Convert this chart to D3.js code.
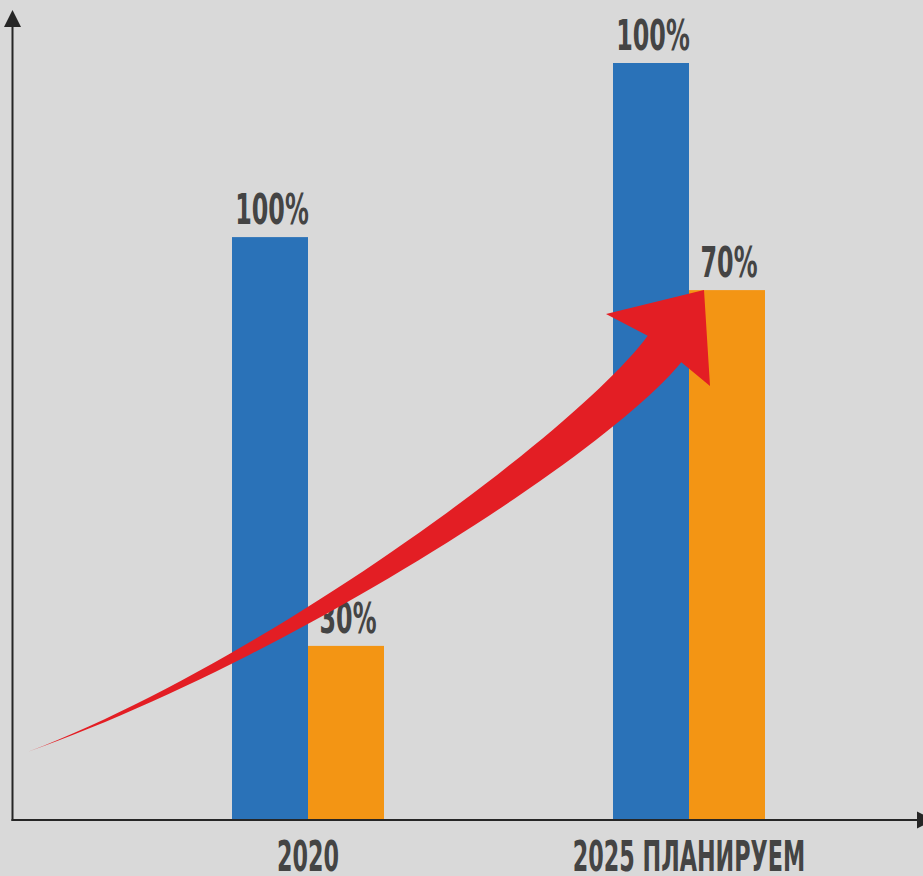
<!DOCTYPE html>
<html>
<head>
<meta charset="utf-8">
<script src="https://cdn.jsdelivr.net/npm/d3@7"></script>
<style>
	html, body { margin: 0; padding: 0; background: #d9d9d9; }
	svg { display: block; }
	.lbl { font-family: "Liberation Sans Narrow", "DejaVu Sans Condensed", sans-serif; font-weight: bold; fill: #444444; }
</style>
</head>
<body>
<div id="chart"></div>
<script>

//data
const categories = ['2020', '2025 ПЛАНИРУЕМ'];
const seriesNames = ['base', 'target'];
const baseValues = [77, 100];
const targetValues = [23, 70];
const baseLabels = ['100%', '100%'];
const targetLabels = ['30%', '70%'];

const colors = {base: '#2a72b8', target: '#f39514'};

const width = 923, height = 876;
const axisColor = '#262626';
const valSqueeze = 0.63; // narrow the font horizontally
const catSqueeze = 0.59;

const svg = d3.select('#chart').append('svg')
	.attr('width', width)
	.attr('height', height);

svg.append('rect')
	.attr('width', width)
	.attr('height', height)
	.attr('fill', '#d9d9d9');

//scales
const xScale = d3.scaleBand()
	.domain(categories)
	.range([117.5, 879.5])
	.padding(0);

const xSub = d3.scaleBand()
	.domain(seriesNames)
	.range([-76, 76])
	.padding(0);

const yScale = d3.scaleLinear()
	.domain([0, 100])
	.range([820, 63]);

const rows = categories.map((c, i) => ({
	cat: c,
	bars: [
		{key: 'base', value: baseValues[i], label: baseLabels[i]},
		{key: 'target', value: targetValues[i], label: targetLabels[i]}
	]
}));

const groups = svg.selectAll('.grp')
	.data(rows)
	.enter().append('g')
	.attr('class', 'grp')
	.attr('transform', d => `translate(${xScale(d.cat) + xScale.bandwidth() / 2},0)`);

groups.selectAll('rect')
	.data(d => d.bars)
	.enter().append('rect')
	.attr('x', d => xSub(d.key))
	.attr('y', d => yScale(d.value))
	.attr('width', xSub.bandwidth())
	.attr('height', d => yScale(0) - yScale(d.value))
	.attr('fill', d => colors[d.key]);

//axes
const x0 = 12.5, yBase = 820;
svg.append('line')
	.attr('x1', x0).attr('y1', yBase + 1)
	.attr('x2', x0).attr('y2', 25)
	.attr('stroke', axisColor).attr('stroke-width', 2);
svg.append('path')
	.attr('d', `M${x0},10 L${x0 + 8.5},27 L${x0 - 8.5},27 Z`)
	.attr('fill', axisColor);

svg.append('line')
	.attr('x1', x0 - 1).attr('y1', yBase)
	.attr('x2', 918).attr('y2', yBase)
	.attr('stroke', axisColor).attr('stroke-width', 2);
svg.append('path')
	.attr('d', `M917,${yBase - 8.5} L934,${yBase} L917,${yBase + 8.5} Z`)
	.attr('fill', axisColor);

//category labels
const xAxis = svg.append('g')
	.attr('transform', `translate(0,${yBase})`)
	.call(d3.axisBottom(xScale).tickSize(0).tickPadding(0));
xAxis.select('.domain').remove();
xAxis.selectAll('text')
	.attr('class', 'lbl')
	.attr('font-size', 42)
	.attr('dy', null)
	.attr('y', 0)
	.attr('transform', `translate(0,51) scale(${catSqueeze},1)`)
	.attr('fill', '#444444')
	.style('font-family', '"Liberation Sans Narrow", "DejaVu Sans Condensed", sans-serif')
	.style('font-weight', 'bold');

//red growth arrow, anchored on the scales
const cx1 = xScale(categories[1]) + xScale.bandwidth() / 2;
const tip = [cx1 + 15, yScale(targetValues[1])];
const p0 = [28, yScale(9)];
const p3 = [tip[0] - 39.5, tip[1] + 59];
const c1 = [p0[0] + 250, p0[1] - 0.37 * 250];
const c2 = [p3[0] - 0.619 * 120, p3[1] + 0.786 * 120];

function bez(t) {
	const a = Math.pow(1 - t, 3), b = 3 * t * (1 - t) * (1 - t), c = 3 * t * t * (1 - t), e = t * t * t;
	return [a * p0[0] + b * c1[0] + c * c2[0] + e * p3[0],
		a * p0[1] + b * c1[1] + c * c2[1] + e * p3[1]];
}
function bezD(t) {
	const a = 3 * (1 - t) * (1 - t), b = 6 * t * (1 - t), c = 3 * t * t;
	return [a * (c1[0] - p0[0]) + b * (c2[0] - c1[0]) + c * (p3[0] - c2[0]),
		a * (c1[1] - p0[1]) + b * (c2[1] - c1[1]) + c * (p3[1] - c2[1])];
}

const upper = [], lower = [];
d3.range(0, 1.0001, 0.02).forEach(t => {
	const p = bez(t), d = bezD(t);
	const len = Math.hypot(d[0], d[1]);
	const nx = -d[1] / len, ny = d[0] / len;
	const frac = (p[0] - p0[0]) / (p3[0] - p0[0]);
	const w = 21.4 * Math.pow(Math.max(frac, 0), 1.3);
	upper.push([p[0] - nx * w, p[1] - ny * w]);
	lower.push([p[0] + nx * w, p[1] + ny * w]);
});

const head = [
	[tip[0] - 98, tip[1] + 24],
	tip,
	[tip[0] + 6, tip[1] + 96]
];

const outline = upper.concat(head).concat(lower.reverse());

svg.append('path')
	.attr('d', d3.line()(outline) + 'Z')
	.attr('fill', '#e31e24');

//value labels on top
groups.selectAll('.val')
	.data(d => d.bars)
	.enter().append('text')
	.attr('class', 'lbl val')
	.attr('text-anchor', 'middle')
	.attr('font-size', 42)
	.attr('transform', d => `translate(${xSub(d.key) + xSub.bandwidth() / 2 + 2},${yScale(d.value) - 13}) scale(${valSqueeze},1)`)
	.text(d => d.label);

</script>
</body>
</html>
